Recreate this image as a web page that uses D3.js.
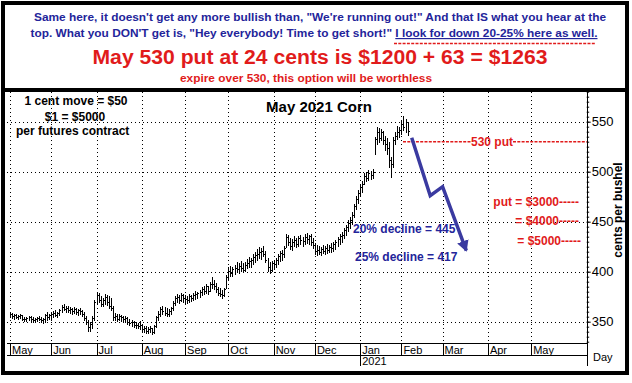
<!DOCTYPE html>
<html><head><meta charset="utf-8">
<script src="https://cdn.jsdelivr.net/npm/d3@7"></script>
<style>
body{margin:0;background:#fff}
svg{display:block}
text{font-family:"Liberation Sans",Arial,sans-serif}
</style>
</head><body>
<svg id="c" width="632" height="383"></svg>
<script>
// ---------------- DATA ----------------
const highs = [
 360,359,358,358,357,358,357,355,355,356,356,355,354,355,356,355,354,358,360,358,
 360,361,362,360,363,367,368,366,366,365,364,365,364,363,364,362,360,356,352,350,356,372,
 380,379,376,374,378,377,376,374,366,359,358,358,357,356,356,355,353,352,351,350,349,351,
 347,346,346,345,346,344,347,356,361,365,366,365,364,363,365,371,376,378,377,379,378,
 377,376,378,377,379,381,380,382,385,386,388,386,390,395,392,389,385,384,382,384,397,
 405,406,405,407,410,409,411,409,410,413,415,414,418,420,423,425,424,426,421,414,410,411,
 412,414,418,421,422,426,438,437,434,433,436,434,436,437,435,438,439,437,438,434,
 429,427,426,425,427,426,428,427,429,430,432,435,438,440,444,447,452,455,460,468,476,482,
 488,491,499,500,502,501,503,535,545,544,543,541,536,534,530,515,535,540,546,545,
 552,556,553,550];
const lows = [
 355,354,353,354,353,354,352,351,351,352,351,350,350,351,352,350,349,350,352,353,
 352,355,356,355,357,360,362,360,360,359,358,359,358,357,358,356,352,348,341,341,344,352,
 368,370,366,366,368,367,364,362,352,352,351,352,351,350,350,348,347,346,345,344,344,343,
 341,340,339,339,340,338,339,345,352,356,358,357,356,356,358,362,367,370,369,371,370,
 369,369,370,371,372,373,374,375,377,378,379,378,381,384,383,380,377,376,374,376,384,
 393,396,396,398,400,399,401,400,401,404,405,405,408,410,412,414,413,416,410,401,399,401,
 403,405,408,411,412,415,425,427,423,422,426,425,426,428,426,428,429,428,427,424,
 418,417,418,417,419,418,419,420,420,421,423,426,428,430,434,437,441,444,448,455,463,469,
 477,480,488,491,492,493,494,518,528,530,532,528,522,518,505,495,505,528,533,535,
 538,542,540,537];
const closes = [
 358,356,357,355,356,357,353,353,354,355,353,352,353,354,353,352,353,357,355,357,
 358,359,357,359,362,365,363,364,362,363,361,363,360,362,361,358,354,350,345,348,354,370,
 377,372,368,372,375,370,366,364,355,356,353,356,355,353,354,350,349,350,347,347,346,347,
 343,344,341,343,344,340,346,355,358,363,361,359,358,361,364,369,374,375,372,377,374,
 373,372,376,374,377,378,379,380,383,381,386,381,388,388,386,383,379,378,377,383,395,
 401,399,403,404,403,406,404,402,407,409,411,412,415,417,418,420,421,418,412,405,402,409,
 408,412,416,419,418,424,435,430,426,430,432,428,434,432,431,435,433,436,430,427,
 421,422,420,423,421,424,422,425,424,428,430,433,436,437,442,445,449,452,457,466,473,479,
 485,488,496,494,499,497,500,533,540,534,540,532,528,524,512,508,532,536,540,542,
 548,545,550,541];

const monthLabels = ["May","Jun","Jul","Aug","Sep","Oct","Nov","Dec","Jan","Feb","Mar","Apr","May"];
const monthStarts = [0,20,42,64,85,106,128,148,170,190,210,232,253];
const yearLabel = {label:"2021", idx:170};
const yTicks = [350,400,450,500,550];
const yMinorTicks = d3.range(330, 581, 5);
// projected path (trading-day index, cents)
const arrowPts = [[195,534],[204,476],[210,485],[221.5,421]];
const putStrike = 530;

// ---------------- LAYOUT ----------------
const svg = d3.select("#c");
const plot = {left:7, right:586.7, top:92, bottom:343};
const x = d3.scaleLinear().domain([0,280]).range([10,586.8]);
const y = d3.scaleLinear().domain([350,550]).range([321.7,121.7]);
const BLUE = "#23249a", RED = "#e11b1b", ARROW = "#3a3aa0";
const px = v => Math.round(v) + 0.5;

svg.append("rect").attr("width",632).attr("height",383).attr("fill","#fff");

// grid
const grid = svg.append("g").attr("stroke","#000").attr("stroke-width",1).attr("stroke-dasharray","1,3");
grid.selectAll("line.h").data(yTicks).join("line")
  .attr("x1",plot.left).attr("x2",plot.right)
  .attr("y1",d=>px(y(d))).attr("y2",d=>px(y(d)));
grid.selectAll("line.v").data(monthStarts).join("line")
  .attr("x1",d=>px(x(d))).attr("x2",d=>px(x(d)))
  .attr("y1",plot.top).attr("y2",plot.bottom);

// price bars (HLC)
const bars = svg.append("g").attr("stroke","#000").attr("stroke-width",1).attr("shape-rendering","crispEdges");
highs.forEach((h,i)=>{
  const xi = px(x(i));
  bars.append("line").attr("x1",xi).attr("x2",xi).attr("y1",Math.round(y(h))).attr("y2",Math.round(y(lows[i]))+1);
  bars.append("line").attr("x1",xi).attr("x2",xi+1.5).attr("y1",px(y(closes[i]))).attr("y2",px(y(closes[i])));
});

// y axis
const axG = svg.append("g").attr("transform",`translate(${plot.right},0)`);
axG.call(d3.axisRight(y).tickValues(yMinorTicks).tickSize(2.5).tickFormat(""));
axG.call(g=>g.select(".domain").remove());
const axM = svg.append("g").attr("transform",`translate(${plot.right},0)`);
axM.call(d3.axisRight(y).tickValues(yTicks).tickSize(4).tickPadding(1).tickFormat(d3.format("d")));
axM.select(".domain").remove();
axM.selectAll("text").attr("font-size",13).attr("font-family","Liberation Sans, Arial, sans-serif").attr("fill","#000");
svg.selectAll(".tick line").attr("stroke","#000");
svg.append("line").attr("x1",px(plot.right)).attr("x2",px(plot.right)).attr("y1",plot.top).attr("y2",366).attr("stroke","#000");

// x axis month row
const xr = svg.append("g").attr("stroke","#000").attr("shape-rendering","crispEdges");
xr.append("line").attr("x1",plot.left).attr("x2",plot.right).attr("y1",343.5).attr("y2",343.5);
xr.append("line").attr("x1",plot.left).attr("x2",plot.right).attr("y1",355.5).attr("y2",355.5);
xr.selectAll("line.m").data(monthStarts).join("line")
  .attr("x1",d=>px(x(d))).attr("x2",d=>px(x(d))).attr("y1",343).attr("y2",355);
xr.append("line").attr("x1",px(x(yearLabel.idx))).attr("x2",px(x(yearLabel.idx))).attr("y1",355).attr("y2",366);
svg.selectAll("text.month").data(monthLabels).join("text")
  .attr("x",(d,i)=>x(monthStarts[i])+2).attr("y",353.5).attr("font-size",11).text(d=>d);
svg.append("text").attr("x",x(yearLabel.idx)+2).attr("y",365).attr("font-size",11).text(yearLabel.label);
svg.append("text").attr("x",593).attr("y",361).attr("font-size",11).text("Day");

// axis title
svg.append("text").attr("transform","translate(622,210) rotate(-90)").attr("text-anchor","middle")
  .attr("font-size",12).attr("font-weight","bold").text("cents per bushel");

// chart annotations
const ann = svg.append("g").attr("font-weight","bold");
ann.append("text").attr("x",76).attr("y",105).attr("text-anchor","middle").attr("font-size",12).text("1 cent move = $50");
ann.append("text").attr("x",75).attr("y",121).attr("text-anchor","middle").attr("font-size",12).text("$1 = $5000");
ann.append("text").attr("x",16).attr("y",135).attr("font-size",12).text("per futures contract");
ann.append("text").attr("x",319).attr("y",112).attr("text-anchor","middle").attr("font-size",15).text("May 2021 Corn");

// 530 put line
const yp = y(putStrike);
svg.append("line").attr("x1",403).attr("x2",471).attr("y1",yp).attr("y2",yp)
  .attr("stroke",RED).attr("stroke-width",1.5).attr("stroke-dasharray","3,1.3");
svg.append("line").attr("x1",513).attr("x2",plot.right).attr("y1",yp).attr("y2",yp)
  .attr("stroke",RED).attr("stroke-width",1.5).attr("stroke-dasharray","3,1.3");
ann.append("text").attr("x",492).attr("y",yp+4.5).attr("text-anchor","middle").attr("font-size",12).attr("fill",RED).text("530 put");

ann.append("text").attr("x",579).attr("y",y(470)+4.5).attr("text-anchor","end").attr("font-size",12).attr("fill",RED).text("put = $3000-----");
ann.append("text").attr("x",579).attr("y",y(451.5)+4.5).attr("text-anchor","end").attr("font-size",12).attr("fill",RED).text("= $4000-----");
ann.append("text").attr("x",581).attr("y",y(431.5)+4.5).attr("text-anchor","end").attr("font-size",12).attr("fill",RED).text("= $5000-----");

ann.append("text").attr("x",353).attr("y",y(443.5)+4.5).attr("font-size",12).attr("fill",BLUE).text("20% decline = 445");
ann.append("text").attr("x",355).attr("y",y(415.7)+4.5).attr("font-size",12).attr("fill",BLUE).text("25% decline = 417");

// arrow
svg.append("defs").append("marker").attr("id","ah").attr("markerUnits","userSpaceOnUse")
  .attr("markerWidth",14).attr("markerHeight",14).attr("refX",10).attr("refY",6).attr("orient","auto")
  .append("path").attr("d","M0,0 L11,6 L0,12 Z").attr("fill",ARROW);
svg.append("path").datum(arrowPts)
  .attr("d",d3.line().x(d=>x(d[0])).y(d=>y(d[1])))
  .attr("fill","none").attr("stroke",ARROW).attr("stroke-width",3.5).attr("stroke-linejoin","miter")
  .attr("marker-end","url(#ah)");

// header text
const hd = svg.append("g").attr("font-weight","bold").attr("text-anchor","middle");
hd.append("text").attr("x",320).attr("y",21).attr("font-size",11.8).attr("fill",BLUE)
  .attr("textLength",572).attr("lengthAdjust","spacingAndGlyphs")
  .text("Same here, it doesn't get any more bullish than, \"We're running out!\" And that IS what you hear at the");
const l2 = hd.append("text").attr("x",314).attr("y",37).attr("font-size",11.8).attr("fill",BLUE)
  .attr("textLength",567).attr("lengthAdjust","spacingAndGlyphs");
l2.append("tspan").text("top. What you DON'T get is, \"Hey everybody! Time to get short!\" ");
l2.append("tspan").attr("text-decoration","underline").text("I look for down 20-25% here as well.");
svg.append("line").attr("x1",394).attr("x2",596).attr("y1",43.5).attr("y2",43.5)
  .attr("stroke",RED).attr("stroke-width",1.5).attr("stroke-dasharray","3,1.3");
hd.append("text").attr("x",320).attr("y",64).attr("font-size",20).attr("fill",RED)
  .attr("textLength",455).attr("lengthAdjust","spacingAndGlyphs")
  .text("May 530 put at 24 cents is $1200 + 63 = $1263");
hd.append("text").attr("x",306).attr("y",82).attr("font-size",11).attr("fill",RED)
  .attr("textLength",252).attr("lengthAdjust","spacingAndGlyphs")
  .text("expire over 530, this option will be worthless");

// frames
svg.append("rect").attr("x",3).attr("y",3).attr("width",624).attr("height",370)
  .attr("fill","none").attr("stroke","#000").attr("stroke-width",4);
svg.append("line").attr("x1",3).attr("x2",627).attr("y1",90).attr("y2",90).attr("stroke","#000").attr("stroke-width",4);
</script>
</body></html>
